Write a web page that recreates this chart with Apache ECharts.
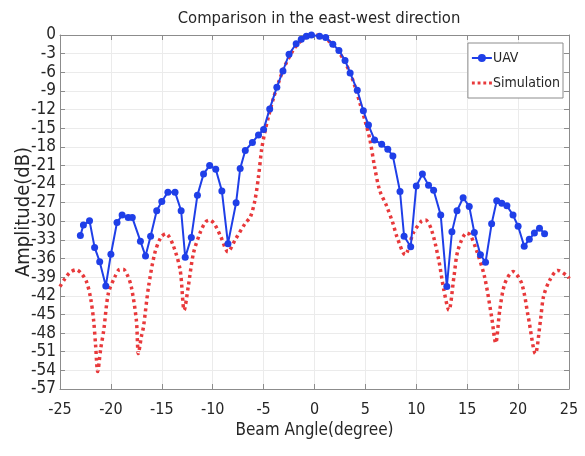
<!DOCTYPE html>
<html lang="en">
<head>
    <meta charset="utf-8">
    <title>Comparison in the east-west direction</title>
    <script src="https://cdn.jsdelivr.net/npm/echarts@6/dist/echarts.min.js"></script>
    <style>
        html, body { margin: 0; padding: 0; background: #fff; }
        #main { width: 585px; height: 456px; }
    </style>
</head>
<body>
    <div id="main"></div>
    <script>
    // measured UAV beam (degree, dB)
    var uavAngle = [-23.0, -22.7, -22.1, -21.6, -21.1, -20.5, -20.0, -19.4, -18.9, -18.3, -17.9, -17.1, -16.6, -16.1,
        -15.5, -15.0, -14.4, -13.7, -13.1, -12.7, -12.1, -11.5, -10.9, -10.3, -9.7, -9.1, -8.5, -7.7, -7.3, -6.8,
        -6.1, -5.5, -5.0, -4.4, -3.7, -3.1, -2.5, -1.8, -1.3, -0.8, -0.3, 0.5, 1.1, 1.8, 2.4, 3.0, 3.5, 4.2, 4.8,
        5.3, 5.9, 6.6, 7.2, 7.7, 8.4, 8.8, 9.45, 10.0, 10.6, 11.2, 11.7, 12.4, 13.0, 13.5, 14.0, 14.6, 15.2, 15.7,
        16.3, 16.8, 17.4, 17.9, 18.4, 18.9, 19.5, 20.0, 20.6, 21.1, 21.6, 22.1, 22.6];
    var uavAmp = [-32.3, -30.6, -29.9, -34.2, -36.5, -40.4, -35.3, -30.2, -29.0, -29.4, -29.4, -33.2, -35.6, -32.4,
        -28.3, -26.8, -25.3, -25.3, -28.3, -35.8, -32.6, -25.8, -22.4, -21.0, -21.6, -25.1, -33.6, -27.0, -21.5, -18.6,
        -17.3, -16.1, -15.2, -11.9, -8.4, -5.8, -3.1, -1.4, -0.7, -0.2, 0, -0.2, -0.4, -1.5, -2.5, -4.1, -6.1, -8.9, -12.2,
        -14.5, -16.9, -17.6, -18.4, -19.5, -25.2, -32.4, -34.1, -24.3, -22.4, -24.2, -25.0, -29.0, -40.5, -31.7, -28.3, -26.2, -27.6, -31.8,
        -35.4, -36.6, -30.4, -26.7, -27.1, -27.5, -29.0, -30.8, -34.0, -32.9, -31.9, -31.1, -32.0];

    // simulated pattern
    var simAngle = [-25, -24.5, -24.0, -23.4, -22.9, -22.4, -22.0, -21.7, -21.5, -21.3, -21.0, -20.7, -20.25, -19.6,
        -19.2, -18.8, -18.4, -18.0, -17.5, -17.3, -17.0, -16.8, -16.3, -15.7, -15.1, -14.6, -13.9, -13.2, -12.8,
        -12.4, -11.9, -11.25, -10.7, -10.3, -9.8, -9.2, -8.5, -7.8, -6.8, -6.3, -5.85, -5.5, -5.2, -4.9, -4.5, -4.0,
        -3.5, -3.0, -2.5, -2.0, -1.5, -1.0, -0.5, 0, 0.5, 1.0, 1.5, 2.0, 2.5, 3.0, 3.5, 4.0, 4.5, 5.0, 5.45, 5.9,
        6.4, 7.1, 7.7, 8.1, 8.9, 9.7, 10.5, 10.9, 11.5, 12.2, 12.7, 13.2, 13.7, 14.1, 14.95, 15.3, 15.9, 16.7, 17.4,
        17.8, 18.2, 18.7, 19.5, 20.35, 21.0, 21.7, 22.2, 22.5, 23.1, 23.9, 24.9, 25];
    var simAmp = [-40.5, -39.2, -38.2, -37.8, -38.4, -39.7, -42.3, -45.9, -50.0, -54.2, -50.5, -47.5, -41.6, -38.9,
        -37.8, -37.7, -38.6, -40.5, -45.9, -51.3, -48.5, -47.0, -40.5, -35.2, -32.6, -32.0, -33.8, -37.8, -44.3,
        -40.5, -35.2, -31.9, -30.1, -29.8, -30.5, -32.5, -34.9, -33.0, -30.3, -29.3, -26.6, -22.8, -18.5, -15.8, -13.0, -10.0,
        -7.5, -5.3, -3.6, -2.2, -1.2, -0.5, -0.1, 0, -0.1, -0.5, -1.1, -1.9, -3.0, -4.4, -6.1, -8.4, -11.2, -14.0, -16.9, -21.2,
        -25.0, -27.6, -30.3, -32.5, -35.4, -31.9, -30.0, -29.8, -31.4, -36.2, -41.0, -44.3, -38.9, -34.6, -31.9, -32.2, -34.6, -38.9, -45.4,
        -49.6, -44.3, -40.0, -38.1, -40.0, -45.4, -51.3, -45.9, -42.1, -39.5, -37.9, -38.9, -39.2];

    function pairs(xs, ys) {
        return xs.map(function (x, i) { return [x, ys[i]]; });
    }

    var font = 'Liberation Sans Narrow, DejaVu Sans Condensed, Liberation Sans, sans-serif';
    var textColor = '#262626';
    var axisColor = '#8c8c8c';
    var blue = '#1f3fe8';
    var red = '#e8393b';

    var myChart = echarts.init(document.getElementById('main'));

    var option = {
        backgroundColor: '#fff',
        animation: false,
        title: {
            text: 'Comparison in the east-west direction',
            left: 314,
            top: 5,
            textAlign: 'center',
            textStyle: { fontFamily: font, fontSize: 16.5, fontWeight: 'normal', color: textColor }
        },
        legend: {
            orient: 'vertical',
            right: 22,
            top: 43,
            itemGap: 11,
            itemWidth: 20,
            itemHeight: 10,
            padding: [8, 3, 8, 3],
            borderColor: '#8c8c8c',
            borderWidth: 1,
            backgroundColor: '#fff',
            textStyle: { fontFamily: font, fontSize: 14, color: textColor, padding: [0, 0, 0, -4] },
            data: [
                { name: 'UAV' },
                { name: 'Simulation', icon: 'path://M0,0h3v3h-3z M6,0h3v3h-3z M12,0h3v3h-3z M18,0h3v3h-3z', itemStyle: { color: red } }
            ]
        },
        grid: { left: 60, right: 16, top: 35, bottom: 67 },
        xAxis: [{
            type: 'value',
            min: -25,
            max: 25,
            interval: 5,
            name: 'Beam Angle(degree)',
            nameLocation: 'middle',
            nameGap: 33,
            nameMoveOverlap: false,
            nameTextStyle: { fontFamily: font, fontSize: 17, color: textColor },
            axisLine: { onZero: false, lineStyle: { color: axisColor } },
            axisTick: { inside: true, length: 5, lineStyle: { color: axisColor } },
            axisLabel: { fontFamily: font, fontSize: 16, color: textColor, margin: 13 },
            splitLine: { show: true, lineStyle: { color: '#ebebeb' } }
        }, {
            type: 'value',
            position: 'top',
            min: -25,
            max: 25,
            interval: 5,
            axisLine: { onZero: false, lineStyle: { color: axisColor } },
            axisTick: { inside: true, length: 5, lineStyle: { color: axisColor } },
            axisLabel: { show: false },
            splitLine: { show: false }
        }],
        yAxis: [{
            type: 'value',
            min: -57,
            max: 0,
            interval: 3,
            name: 'Amplitude(dB)',
            nameLocation: 'middle',
            nameGap: 26,
            nameMoveOverlap: false,
            nameTextStyle: { fontFamily: font, fontSize: 20, color: textColor },
            axisLine: { onZero: false, lineStyle: { color: axisColor } },
            axisTick: { inside: true, length: 5, lineStyle: { color: axisColor } },
            axisLabel: { fontFamily: font, fontSize: 17, color: textColor, margin: 4 },
            splitLine: { show: true, lineStyle: { color: '#ebebeb' } }
        }, {
            type: 'value',
            position: 'right',
            min: -57,
            max: 0,
            interval: 3,
            axisLine: { show: true, onZero: false, lineStyle: { color: axisColor } },
            axisTick: { show: true, inside: true, length: 5, lineStyle: { color: axisColor } },
            axisLabel: { show: false },
            splitLine: { show: false }
        }],
        series: [{
            name: 'Simulation',
            type: 'line',
            data: pairs(simAngle, simAmp),
            smooth: 0.3,
            symbol: 'none',
            z: 2,
            color: red,
            lineStyle: { color: red, width: 3.5, type: [3, 3.5] }
        }, {
            name: 'UAV',
            type: 'line',
            data: pairs(uavAngle, uavAmp),
            symbol: 'circle',
            symbolSize: 7,
            z: 3,
            color: blue,
            itemStyle: { color: blue },
            lineStyle: { color: blue, width: 2 }
        }]
    };

    myChart.setOption(option);
    </script>
</body>
</html>
